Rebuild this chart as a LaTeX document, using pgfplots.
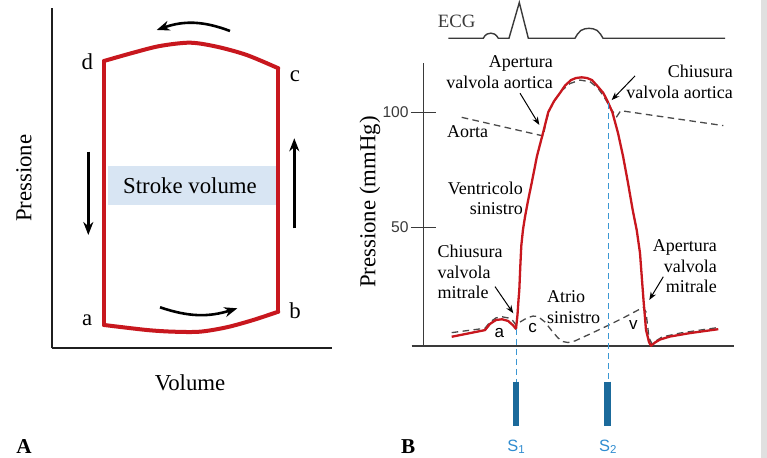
\documentclass[border=0pt]{standalone}
\usepackage{fontspec}
\setmainfont{Liberation Serif}
\setsansfont{Liberation Sans}
\usepackage{pgfplots}
\pgfplotsset{compat=1.18}
\usetikzlibrary{arrows.meta}
\definecolor{loopred}{HTML}{C8171E}
\definecolor{svblue}{HTML}{D8E5F3}
\definecolor{sblue}{HTML}{3B97D3}
\definecolor{barblue}{HTML}{1B6A9B}
\definecolor{lblue}{HTML}{2F8CD0}
\definecolor{dgray}{HTML}{3A3A3A}
\definecolor{dashgray}{HTML}{4A4A4A}
\begin{document}
\begin{tikzpicture}[x=1pt,y=1pt]
\fill[white] (0,0) rectangle (383.5,229);
\fill[black!12] (380.35,0) rectangle (383.5,229);

% ---------------- Panel A ----------------
\begin{axis}[
 at={(25.85pt,54.85pt)}, anchor=south west,
 scale only axis, width=140pt, height=170pt,
 xmin=0, xmax=280, ymin=0, ymax=340,
 axis lines*=left, axis line style={line width=1pt, black!88},
 xtick=\empty, ytick=\empty,
 xlabel={Volume}, ylabel={Pressione},
 every axis x label/.style={at={(axis description cs:0.494,-0.101)}, anchor=center, font=\fontsize{11.4}{13}\selectfont},
 every axis y label/.style={at={(axis description cs:-0.099,0.5)}, anchor=center, rotate=90, font=\fontsize{11.4}{13}\selectfont},
 clip=false,
]
\fill[svblue] (axis cs:56.6,143.3) rectangle (axis cs:224.3,182.3);
\node[font=\fontsize{11.4}{13}\selectfont] at (axis cs:138.3,162.3) {Stroke volume};
% loop
\addplot[loopred, line width=2pt, line cap=round] coordinates {(52.3,23.3) (52.3,287.3)};
\addplot[loopred, line width=2pt, line cap=round, smooth, tension=0.5] coordinates {(52.3,287.3) (81.6,295.6) (108.3,302.3) (138.3,305.6) (165,301.6) (195,293.3) (226.6,280)};
\addplot[loopred, line width=2pt, line cap=round] coordinates {(226.6,280) (226.6,36.6)};
\addplot[loopred, line width=2pt, line cap=round, smooth, tension=0.5] coordinates {(226.6,36.6) (201.6,28.3) (175,21) (148.3,16.6) (121.6,16.6) (95,18.3) (52.3,23.3)};
% arrows
\draw[-{Stealth[length=6.5pt,width=5pt]}, line width=1.3pt] (axis cs:178.3,317.3) to[bend right=20] (axis cs:105,318.3);
\draw[-{Stealth[length=6.5pt,width=5pt]}, line width=1.3pt] (axis cs:108.3,41) to[bend right=18] (axis cs:185.6,40);
\draw[-{Stealth[length=6.5pt,width=5pt]}, line width=1.3pt] (axis cs:36.6,196.6) -- (axis cs:36.6,113.3);
\draw[-{Stealth[length=6.5pt,width=5pt]}, line width=1.3pt] (axis cs:242.6,120) -- (axis cs:242.6,210);
% corner labels
\node[font=\fontsize{11.4}{13}\selectfont] at (axis cs:35.6,286.6) {d};
\node[font=\fontsize{11.4}{13}\selectfont] at (axis cs:243.3,272.3) {c};
\node[font=\fontsize{11.4}{13}\selectfont] at (axis cs:243.3,37.6) {b};
\node[font=\fontsize{11.4}{13}\selectfont] at (axis cs:35.6,27.6) {a};
\node[font=\bfseries\fontsize{10.6}{12}\selectfont] at (axis cs:-27.7,-98.4) {A};
\end{axis}

% ---------------- Panel B ----------------
\begin{axis}[
 at={(211.65pt,56.15pt)}, anchor=south west,
 scale only axis, width=155.5pt, height=141.35pt,
 xmin=423.3, xmax=734.3, ymin=-1.478, ymax=121.43,
 axis y line*=left, axis x line=none,
 axis line style={line width=0.8pt, dgray},
 xtick=\empty, ytick={50,100},
 tick align=center, major tick length=12.5pt,
 tick style={line width=0.6pt, dgray},
 /pgf/number format/assume math mode=true,
 yticklabel style={font=\sffamily\fontsize{7.8}{9}\selectfont, text=dgray, xshift=2.4pt},
 ylabel={Pressione (mmHg)},
 every axis y label/.style={at={(axis description cs:-0.1714,0.508)}, anchor=center, rotate=90, font=\fontsize{11.4}{13}\selectfont},
 clip=false,
]
% baseline
\draw[line width=1pt, dgray] (axis cs:411.7,-1.478) -- (axis cs:734.3,-1.478);
% ECG
\addplot[dgray, line width=0.7pt] coordinates {(448.3,132.2) (483.3,132.2) (485,133.3) (487,134.0) (490.8,134.4) (494.5,134.0) (496.5,133.3) (498.3,132.2) (509,132.2) (519.3,147.7) (528.3,132.2) (575,132.2) (577.5,134.0) (581,135.6) (585,136.3) (589,136.5) (593,136.3) (597,135.6) (600.5,134.0) (603,132.2) (725,132.2)};
\node[font=\fontsize{9.4}{11}\selectfont, text=dgray] at (axis cs:456.7,139.7) {ECG};
% Aorta
\addplot[dashgray, line width=0.65pt, dash pattern=on 3.3pt off 2.2pt] coordinates {(461.7,97.8) (543.3,89.7) (546,96) (550,101.5) (555,105.5) (562,109.5) (570,112.5) (580,114) (590,113.3) (598,110.5) (605,106) (611.7,101) (616.7,98.1) (620.7,100.7) (723.3,94.2)};
% Atrio sinistro
\addplot[dashgray, line width=0.65pt, dash pattern=on 3.3pt off 2.2pt] coordinates {(451.7,4.2) (485,6.1) (490,8.8) (496,10.6) (502,11.1) (508,10.6) (513,9.3) (516,7.5) (520,8.8) (527,10.6) (533,11.4) (538,11.2) (545,8.8) (552,4.9) (558,1.9) (563,0.3) (568,-0.1) (575,0.6) (590,3.6) (608,7.3) (625,11.0) (638,14.0) (643.3,15.2) (646,13.2) (647.5,7.5) (649,1.9) (652,-0.7) (656,0.6) (662,2.3) (680,4.0) (700,5.3) (718,6.4)};
% Ventricolo sinistro
\addplot[loopred, line width=1.15pt, line join=round] coordinates {(451.7,2.4) (485,5.3) (490,8.0) (496,9.7) (502,10.0) (508,9.3) (513,7.4) (516,5.8) (517.5,12) (518.5,18.4) (519.3,22.7) (520.3,33) (521.3,42) (523,49) (525,54.5) (528,61.5) (531.7,69.3) (537,81) (543,91.0) (548.3,100.1) (554,104.8) (560,108.4) (565,111.6) (571,114.0) (576,114.9) (581.7,115.2) (587,114.9) (592,114.0) (597,111.6) (603.3,108.4) (607.5,104.8) (612.3,100.1) (618,91.0) (623,81) (628,69.3) (632.5,58) (636.7,48.8) (640,38.8) (642,27.1) (643.5,18.4) (646,5.4) (649,0.1) (651,-1.5) (655,-0.1) (660,1.2) (670,2.5) (690,4.0) (718.3,5.7)};
% heart sounds
\addplot[sblue, line width=0.6pt, dash pattern=on 3pt off 2pt] coordinates {(516.5,5.8) (516.5,-17.1)};
\addplot[sblue, line width=0.6pt, dash pattern=on 3pt off 2pt] coordinates {(608.3,104) (608.3,-17.1)};
\addplot[barblue, line width=3.4pt] coordinates {(516,-17.1) (516,-36.4)};
\addplot[barblue, line width=3.4pt] coordinates {(607.7,-17.1) (607.7,-36.4)};
\node[font=\sffamily\fontsize{8.2}{10}\selectfont, text=lblue] at (axis cs:516.5,-45.4) {S\textsubscript{1}};
\node[font=\sffamily\fontsize{8.2}{10}\selectfont, text=lblue] at (axis cs:608.3,-45.4) {S\textsubscript{2}};
% annotations
\node[font=\fontsize{9}{10.3}\selectfont, align=right, anchor=east, inner sep=0pt] at (axis cs:553.3,117.4) {Apertura\\valvola aortica};
\draw[-{Stealth[length=4pt,width=3pt]}, line width=0.5pt] (axis cs:520,108.3) -- (axis cs:539.3,94.5);
\node[font=\fontsize{9}{10.3}\selectfont, anchor=west, inner sep=0pt] at (axis cs:446.7,91.6) {Aorta};
\node[font=\fontsize{9}{10.3}\selectfont, align=right, anchor=east, inner sep=0pt] at (axis cs:733.3,113.3) {Chiusura\\valvola aortica};
\draw[-{Stealth[length=4pt,width=3pt]}, line width=0.5pt] (axis cs:635,115.8) -- (axis cs:611.7,105.3);
\node[font=\fontsize{9}{10.3}\selectfont, align=right, anchor=east, inner sep=0pt] at (axis cs:523.3,62.6) {Ventricolo\\sinistro};
\node[font=\fontsize{9}{10.3}\selectfont, align=left, anchor=west, inner sep=0pt] at (axis cs:437.3,30.5) {Chiusura\\valvola\\mitrale};
\draw[-{Stealth[length=4pt,width=3pt]}, line width=0.5pt] (axis cs:495,24.2) -- (axis cs:513.3,12.6);
\node[font=\fontsize{9}{10.3}\selectfont, align=left, anchor=west, inner sep=0pt] at (axis cs:546.7,15.2) {Atrio\\sinistro};
\node[font=\fontsize{9}{10.3}\selectfont, align=right, anchor=east, inner sep=0pt] at (axis cs:717.3,33.1) {Apertura\\valvola\\mitrale};
\draw[-{Stealth[length=4pt,width=3pt]}, line width=0.5pt] (axis cs:663.3,28.5) -- (axis cs:649.3,18.4);
\node[font=\sffamily\fontsize{8.5}{10}\selectfont] at (axis cs:499.3,3.9) {a};
\node[font=\sffamily\fontsize{8.5}{10}\selectfont] at (axis cs:532.7,6.1) {c};
\node[font=\sffamily\fontsize{8.5}{10}\selectfont] at (axis cs:633.3,7.5) {v};
\node[font=\bfseries\fontsize{10.6}{12}\selectfont] at (axis cs:408.3,-45.4) {B};
\end{axis}
\pgfresetboundingbox
\path[use as bounding box] (0,0) rectangle (383.5,229);
\end{tikzpicture}
\end{document}
